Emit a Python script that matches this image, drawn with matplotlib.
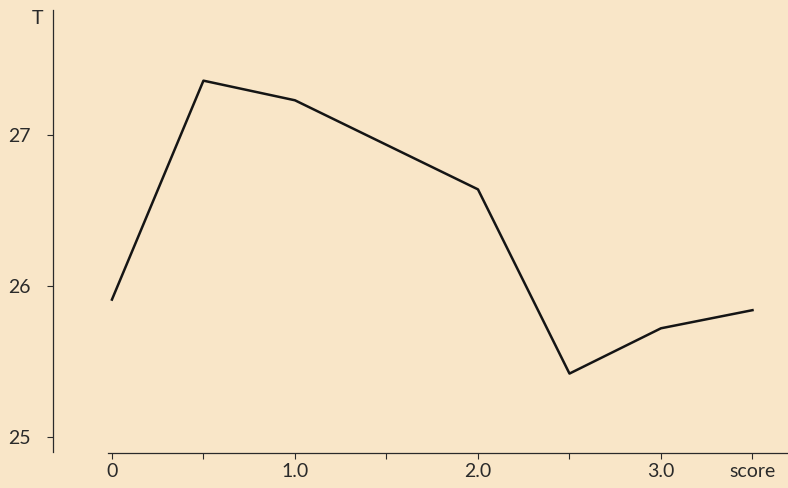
import matplotlib.pyplot as plt

score = [0, 0.5, 1.0, 2.0, 2.5, 3.0, 3.5]
T = [25.91, 27.36, 27.23, 26.64, 25.42, 25.72, 25.84]

x_ticks = [0, 0.5, 1.0, 1.5, 2.0, 2.5, 3.0, 3.5]
x_labels = ["0", "", "1.0", "", "2.0", "", "3.0", "score"]
y_ticks = [25, 26, 27]
y_labels = ["25", "26", "27"]

paper = "#f9e6c8"
ink = "#2a2a2a"

plt.rcParams["font.family"] = ["Lato", "DejaVu Sans"]

fig = plt.figure(figsize=(7.88, 4.88), dpi=100, facecolor=paper)
ax = fig.add_axes([53 / 788, 35 / 488, 735 / 788, 443 / 488])
ax.set_facecolor(paper)

ax.plot(score, T, color="#151515", linewidth=1.8)

ax.set_xlim(-0.322, 3.694)
ax.set_ylim(24.894, 27.828)

for s in ["top", "right"]:
    ax.spines[s].set_visible(False)
ax.spines["left"].set_color(ink)
ax.spines["bottom"].set_color(ink)
ax.spines["left"].set_linewidth(0.9)
ax.spines["bottom"].set_linewidth(0.9)
ax.spines["bottom"].set_bounds(-0.022, 3.694)
ax.spines["left"].set_bounds(24.9, 27.828)

ax.set_xticks(x_ticks)
ax.set_xticklabels(x_labels)
ax.set_yticks(y_ticks)
ax.set_yticklabels(y_labels)
ax.tick_params(axis="both", colors=ink, labelcolor=ink, labelsize=14,
               length=4, width=0.8, direction="out")
ax.tick_params(axis="y", pad=12)
ax.tick_params(axis="x", pad=3)

fig.text(38 / 788, 1 - 18 / 488, "T", color=ink, fontsize=14,
         ha="center", va="center")

fig.savefig("out.png", dpi=100, facecolor=paper)
